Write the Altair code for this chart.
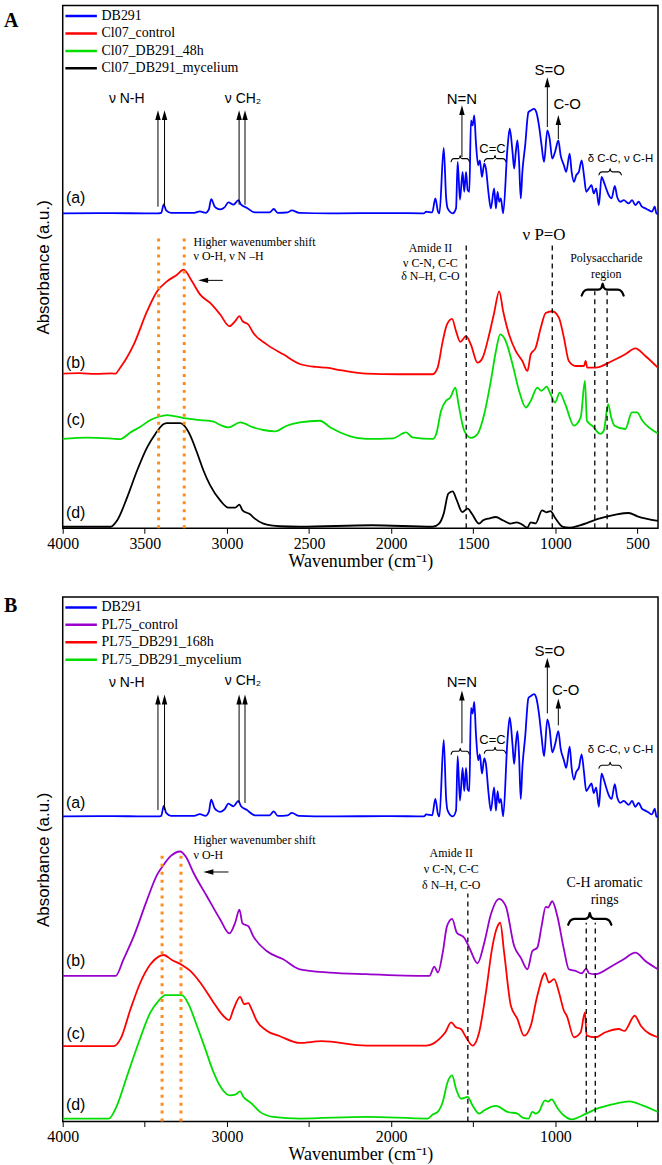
import altair as alt
import pandas as pd

SANS = "Liberation Sans"
SERIF = "Liberation Serif"

# wavenumber range shared by both panels (cm-1)
WN_MIN, WN_MAX = 375, 4000
PLOT_W = 598

# ---------------------------------------------------------------- spectra
# DB291 dye: height above its own baseline (a.u.)
DB291 = [
    (4000, 0), (3700, 0.3), (3500, 0), (3420, 0), (3400, 0.5), (3385, 9), (3370, 3),
    (3340, 0.5), (3200, 0.5), (3165, 2), (3130, 0.5), (3110, 4), (3096, 14.4), (3075, 7),
    (3061, 5), (3040, 4), (3015, 6), (2991, 11), (2960, 8.7), (2930, 13.4), (2915, 9),
    (2880, 5.7), (2830, 1), (2740, 1), (2715, 4.4), (2690, 0.5), (2630, 1), (2605, 3),
    (2560, 0.5), (2370, 0), (2000, 0.3), (1800, 0), (1787, 1.7), (1750, 1), (1731, 15),
    (1715, 2), (1706, 0), (1680, 65.7), (1665, 15), (1656, 5), (1625, 0), (1605, 5),
    (1595, 51.7), (1581, 13.7), (1565, 41.7), (1555, 21.7), (1544, 41.7), (1534, 23.3),
    (1524, 21.7), (1514, 93.3), (1504, 88.3), (1494, 98.3), (1484, 71.7), (1470, 48.3),
    (1460, 53.3), (1447, 36.7), (1433, 50), (1423, 45), (1407, 20), (1393, 5), (1373, 25),
    (1362, 5), (1352, 21.7), (1342, 11.7), (1332, 15), (1318, 0), (1292, 65), (1278, 85),
    (1261, 61.7), (1251, 45), (1241, 61.7), (1231, 73.3), (1221, 51.7), (1211, 15),
    (1201, 41.7), (1184, 68.3), (1164, 101.7), (1150, 103.3), (1130, 105), (1116, 101.7),
    (1100, 88.3), (1084, 68.3), (1069, 51.7), (1049, 83.3), (1035, 75), (1019, 55),
    (1002, 61.7), (982, 73.3), (968, 58.3), (948, 48.3), (934, 41.7), (913, 60),
    (901, 41.7), (887, 31.7), (873, 38.3), (857, 41.7), (840, 53.3), (826, 38.3),
    (812, 21.7), (796, 25), (780, 28.3), (766, 20), (752, 25), (735, 8.3), (719, 36.7),
    (705, 31.7), (691, 25), (675, 18.3), (658, 15), (638, 27.7), (624, 16.7), (604, 11.7),
    (584, 13.3), (553, 10), (533, 13.3), (513, 8.3), (493, 11.7), (473, 6.7), (452, 5),
    (432, 3.3), (412, 1.7), (395, 6.7), (385, 0), (375, -0.5),
]
DB291_OFFSET = {"A": 316.3, "B": 306.5}
DB291_GAIN = {"A": 1.0, "B": 1.17}

CL07_CONTROL = [
    (4000, 155.3), (3900, 155.8), (3800, 155.0), (3700, 155.5), (3680, 155.3), (3650, 161.3),
    (3567, 184.7), (3486, 218), (3425, 238), (3365, 248), (3304, 254.7), (3264, 259.7),
    (3213, 248), (3163, 234.7), (3102, 226.3), (3041, 214.7), (2985, 203), (2950, 208),
    (2924, 213), (2905, 208), (2870, 204.7), (2840, 196.3), (2758, 184.7), (2657, 174.7),
    (2556, 165), (2455, 162), (2394, 161.3), (2300, 158.5), (2151, 155.3), (1949, 154.7),
    (1747, 154.7), (1717, 161.3), (1686, 188), (1660, 204.7), (1629, 210.3), (1605, 198),
    (1579, 187.3), (1544, 193), (1515, 184.7), (1474, 166.3), (1443, 171.3), (1403, 194.7),
    (1373, 216.3), (1342, 238), (1318, 218), (1282, 194.7), (1241, 178), (1201, 168),
    (1170, 158), (1150, 174.7), (1120, 181.3), (1089, 201.3), (1059, 216.3), (1019, 218),
    (978, 211.3), (948, 191.3), (918, 168), (877, 163), (826, 163), (816, 168), (806, 161.3),
    (756, 161.3), (655, 168), (574, 174.7), (513, 180.7), (452, 173), (376, 161.3),
]
CL07_DB291_48H = [
    (4000, 89.7), (3850, 91), (3700, 90), (3650, 89.5), (3587, 96.3), (3527, 102),
    (3466, 108.7), (3416, 112), (3365, 113.7), (3264, 110.7), (3163, 108.7), (3082, 107),
    (3040, 103.7), (2991, 101.3), (2920, 106.3), (2839, 101.3), (2778, 98.7), (2707, 97.3),
    (2636, 103), (2556, 106.3), (2434, 108), (2370, 101.3), (2151, 89.7), (1990, 90.3),
    (1909, 96.3), (1870, 91.3), (1747, 89.7), (1725, 95), (1696, 118), (1666, 128),
    (1640, 131.3), (1609, 141.3), (1590, 124.7), (1555, 98), (1514, 90.7), (1474, 94.7),
    (1433, 114.7), (1393, 148), (1362, 178), (1336, 194.7), (1302, 188), (1261, 164.7),
    (1221, 138), (1180, 121.3), (1150, 128), (1110, 141.3), (1085, 138), (1053, 142.3),
    (1030, 134.7), (1002, 126.3), (974, 136.3), (940, 124.7), (887, 103), (846, 111.3),
    (820, 148), (808, 108), (776, 103), (725, 94.7), (705, 98), (679, 124.7), (660, 111.3),
    (640, 103), (574, 99.7), (534, 116.3), (503, 116.3), (470, 108), (376, 95.3),
]
CL07_DB291_MYCELIUM = [
    (4000, 1.5), (3709, 1.5), (3668, 8), (3607, 31.3), (3547, 58), (3486, 81.3),
    (3436, 94.7), (3385, 104.7), (3365, 105.7), (3284, 105.7), (3260, 103), (3223, 93),
    (3183, 76.3), (3143, 58), (3102, 43), (3041, 28), (2991, 20.7), (2950, 20.7),
    (2924, 23.7), (2905, 18), (2859, 14), (2830, 9.7), (2778, 4.7), (2677, 2), (2556, 1.5),
    (2119, 3), (1747, 1.5), (1708, 4.7), (1680, 14.7), (1652, 34.7), (1626, 37), (1600, 28),
    (1567, 16.3), (1534, 19.7), (1510, 15), (1465, 4.7), (1440, 8), (1400, 10),
    (1362, 11.3), (1320, 8), (1273, 4.7), (1234, 6), (1200, 3.5), (1171, 0.5), (1150, 6),
    (1120, 5), (1081, 18), (1055, 16), (1030, 17.3), (1000, 10), (953, 1.3), (915, 0.5),
    (850, 3), (735, 9.7), (633, 13.7), (553, 15.3), (500, 12), (375, 7.3),
]
PL75_CONTROL = [
    (4000, 146.3), (3678, 146.3), (3630, 163), (3567, 186.3), (3486, 223), (3425, 248),
    (3385, 258), (3345, 266.3), (3284, 271.3), (3250, 266), (3203, 249.7), (3122, 226.3),
    (3041, 203), (2985, 189), (2950, 199.7), (2924, 213), (2905, 199), (2870, 196.3),
    (2840, 186.3), (2758, 171.3), (2657, 163), (2556, 153), (2374, 149.7), (2151, 148),
    (1767, 146.3), (1737, 155.7), (1715, 149.7), (1686, 169.7), (1660, 196.3),
    (1629, 203.7), (1600, 189.7), (1555, 184.7), (1524, 174.7), (1474, 159), (1433, 179.7),
    (1393, 208), (1342, 223.7), (1302, 216.3), (1251, 176.3), (1211, 164.7), (1170, 153),
    (1140, 171.3), (1110, 174.7), (1084, 196.3), (1059, 215.7), (1045, 215), (1019, 221.3),
    (988, 206.3), (948, 173), (918, 153), (877, 151.3), (840, 149), (812, 153.7), (796, 149),
    (756, 148), (655, 156.3), (584, 163), (513, 169.7), (452, 161.3), (376, 153),
]
PL75_DB291_168H = [
    (4000, 75.7), (3689, 75.7), (3648, 83), (3587, 113), (3527, 139.7), (3466, 158),
    (3416, 165.7), (3385, 167.3), (3335, 162.3), (3274, 157.3), (3223, 151.3),
    (3163, 139.7), (3082, 119.7), (3040, 109.7), (2987, 102), (2960, 113), (2920, 125.3),
    (2895, 118), (2870, 119), (2850, 113), (2819, 101.3), (2758, 91.3), (2677, 85.7),
    (2556, 79), (2424, 80.7), (2151, 76.3), (1787, 76.3), (1747, 78), (1706, 83),
    (1670, 89.7), (1635, 99.7), (1605, 94.7), (1575, 93), (1544, 84.7), (1504, 76.3),
    (1464, 89.7), (1423, 129.7), (1383, 176.3), (1352, 196.3), (1336, 199.7), (1312, 169.7),
    (1271, 116.3), (1231, 103), (1191, 86.3), (1150, 96.3), (1110, 126.3), (1063, 149),
    (1040, 139.7), (1008, 143), (978, 129.7), (948, 111.3), (930, 106), (887, 84.7),
    (846, 89.7), (820, 109.7), (810, 86.3), (756, 84.7), (695, 89.7), (614, 93), (580, 91),
    (517, 106.3), (480, 96.3), (376, 84.7),
]
PL75_DB291_MYCELIUM = [
    (4000, 3), (3719, 3), (3678, 13), (3607, 46.3), (3537, 79.7), (3466, 109.7),
    (3416, 121.3), (3375, 127), (3274, 127), (3234, 118), (3183, 96.3), (3132, 73),
    (3082, 49.7), (3031, 33), (2981, 26.3), (2950, 27), (2920, 30.3), (2900, 25), (2849, 18),
    (2799, 9.7), (2718, 4.7), (2556, 3), (2151, 4.7), (1777, 3), (1747, 7), (1717, 9.7),
    (1686, 19.7), (1656, 39.7), (1629, 46.3), (1605, 33), (1575, 23), (1534, 24.7),
    (1505, 16.3), (1464, 8), (1433, 11.3), (1362, 15.7), (1292, 9.7), (1231, 8), (1200, 4),
    (1164, 3), (1140, 9.7), (1120, 8), (1100, 10), (1063, 21.3), (1045, 20), (1023, 22.3),
    (988, 13.7), (950, 6.3), (901, 2.3), (812, 8), (735, 13.7), (634, 18), (549, 20.3),
    (470, 16.3), (376, 9.7),
]

# ---------------------------------------------------------------- annotations
# vertical arrows: (wavenumber, from a.u., tip a.u.)
ARROWS_A = [(3420, 323, 420), (3380, 323, 420), (2926, 325, 420), (2890, 325, 420),
            (1569, 373, 425), (1049, 403, 453), (982, 391, 415)]
ARROWS_B = [(3420, 313, 429), (3380, 313, 429), (2926, 320, 429), (2890, 320, 429),
            (1569, 380, 433), (1049, 410, 466), (982, 398, 425)]
# horizontal "shift" arrows: (tail wavenumber, tip wavenumber, a.u.)
SHIFT_A = (3025, 3175, 249)
SHIFT_B = (2991, 3143, 250.7)

# sans-serif labels: (text, wavenumber, a.u., font size)
SANS_A = [("ν N-H", 3610, 431, 14), ("ν CH₂", 2902, 431, 14), ("N=N", 1569, 431.3, 15),
          ("C=C", 1383, 380.7, 13), ("S=O", 1035, 460.7, 15), ("C-O", 928, 426.3, 15),
          ("δ C-C, ν C-H", 604, 371.3, 11.5), ("(a)", 3921, 331.3, 16),
          ("(b)", 3921, 166.3, 16), ("(c)", 3921, 108.7, 16), ("(d)", 3921, 15.3, 16)]
SANS_B = [("ν N-H", 3610, 441, 14), ("ν CH₂", 2902, 443, 14), ("N=N", 1569, 441.3, 15),
          ("C=C", 1383, 383, 13), ("S=O", 1035, 473, 15), ("C-O", 938, 433.7, 15),
          ("δ C-C, ν C-H", 604, 373.7, 11.5), ("(a)", 3921, 319.7, 16),
          ("(b)", 3921, 161.3, 16), ("(c)", 3921, 88, 16), ("(d)", 3921, 16.3, 16)]

# serif labels, centred
SERIF_A = [("Amide II", 1761, 282, 12), ("ν C-N, C-C", 1761, 266.3, 12),
           ("δ N–H, C-O", 1761, 253, 12), ("ν P=O", 1069, 294.7, 17),
           ("Polysaccharide", 690, 271.3, 12), ("region", 690, 255.7, 12)]
SERIF_B = [("Amide II", 1634, 269.7, 12), ("ν C-N, C-C", 1634, 253.7, 12),
           ("δ N–H, C-O", 1634, 238, 12), ("C-H aromatic", 700, 239.7, 14),
           ("rings", 700, 222.3, 14)]
# serif labels, left aligned
NOTE_A = [("Higher wavenumber shift", 3203, 288, 12), ("ν O-H, ν N –H", 3203, 273, 12)]
NOTE_B = [("Higher wavenumber shift", 3203, 283, 12), ("ν O-H", 3203, 268, 12)]

# braces: (left wn, right wn, a.u., depth, stroke width)
BRACES_A = [(1635, 1524, 371.3, 3, 1.1), (1433, 1302, 371.3, 3, 1.1),
            (735, 598, 358, 3, 1.1), (840, 584, 239.7, 6, 2.2)]
BRACES_B = [(1635, 1524, 372, 3, 1.1), (1433, 1302, 373, 3, 1.1),
            (735, 598, 358, 3, 1.1), (922, 659, 203.7, 6, 2.2)]
BRACE_SHAPE = [(0, -1), (0.05, -0.3), (0.14, 0), (0.40, 0), (0.47, 0.3), (0.5, 1),
               (0.53, 0.3), (0.60, 0), (0.86, 0), (0.95, -0.3), (1, -1)]

# dashed black guides: (wn, top a.u.); orange dotted guides likewise
DASHED_A = [(1543, 288), (1019, 288), (760, 238), (685, 238)]
DASHED_B = [(1533, 229), (812, 199.7), (757, 199.7)]
DOTTED_A = [(3416, 293), (3260, 293)]
DOTTED_B = [(3395, 271.3), (3280, 271.3)]

PANELS = [
    dict(key="A", height=525, letter_y=15,
         names=["DB291", "Cl07_control", "Cl07_DB291_48h", "Cl07_DB291_mycelium"],
         colors=["#0000FF", "#FF0000", "#00DD00", "#000000"],
         curves=[CL07_CONTROL, CL07_DB291_48H, CL07_DB291_MYCELIUM],
         ticks=[4000, 3500, 3000, 2500, 2000, 1500, 1000, 500], label_every=500,
         arrows=ARROWS_A, shift=SHIFT_A, sans=SANS_A, serif=SERIF_A, note=NOTE_A,
         braces=BRACES_A, dashed=DASHED_A, dotted=DOTTED_A),
    dict(key="B", height=527, letter_y=9.5,
         names=["DB291", "PL75_control", "PL75_DB291_168h", "PL75_DB291_mycelium"],
         colors=["#0000FF", "#9900CC", "#FF0000", "#00DD00"],
         curves=[PL75_CONTROL, PL75_DB291_168H, PL75_DB291_MYCELIUM],
         ticks=[4000, 3500, 3000, 2500, 2000, 1500, 1000, 500], label_every=1000,
         arrows=ARROWS_B, shift=SHIFT_B, sans=SANS_B, serif=SERIF_B, note=NOTE_B,
         braces=BRACES_B, dashed=DASHED_B, dotted=DOTTED_B),
]

UP_HEAD = "M0,-1L-0.55,1L0.55,1Z"
LEFT_HEAD = "M-1,0L1,-0.55L1,0.55Z"


def text_frame(items):
    return pd.DataFrame(items, columns=["t", "wn", "au", "size"])


def panel(p):
    H = p["height"]
    xs = alt.Scale(domain=[WN_MIN, WN_MAX], reverse=True, nice=False, zero=False)
    ys = alt.Scale(domain=[0, H], nice=False, zero=False)
    label_expr = f"datum.value % {p['label_every']} == 0 ? datum.label : ''"
    x_axis = alt.Axis(
        values=p["ticks"], format="d", labelExpr=label_expr, labelFlush=False,
        labelOverlap=False, labelFont=SERIF, labelFontSize=16, labelColor="black",
        labelPadding=2, tickSize=5, tickColor="black", tickWidth=1, domain=False,
        grid=False, title="Wavenumber (cm⁻¹)", titleFont=SERIF, titleFontSize=18,
        titleFontWeight="normal", titleColor="black", titlePadding=1)
    y_axis = alt.Axis(
        labels=False, ticks=False, domain=False, grid=False,
        title="Absorbance (a.u.)", titleFont=SANS, titleFontSize=17,
        titleFontWeight="normal", titleColor="black", titlePadding=10)

    # every layer carries the same axis definition so the merged axis survives
    def X(f="wn"):
        return alt.X(f"{f}:Q", scale=xs, axis=x_axis)

    def Y(f="au"):
        return alt.Y(f"{f}:Q", scale=ys, axis=y_axis)

    # stacked spectra
    rows = []
    k = p["key"]
    for i, (wn, rel) in enumerate(DB291):
        rows.append(dict(series=p["names"][0], wn=wn,
                         au=DB291_OFFSET[k] + DB291_GAIN[k] * rel, idx=i))
    for name, pts in zip(p["names"][1:], p["curves"]):
        for i, (wn, au) in enumerate(pts):
            rows.append(dict(series=name, wn=wn, au=au, idx=i))
    spectra = pd.DataFrame(rows)

    lines = alt.Chart(spectra).mark_line(strokeWidth=1.8, strokeJoin="round",
                                         interpolate="monotone").encode(
        x=X(), y=Y(),
        color=alt.Color("series:N", scale=alt.Scale(domain=p["names"], range=p["colors"]),
                        legend=alt.Legend(
                            title=None, orient="none", legendX=1, legendY=3.5,
                            symbolType="stroke", symbolSize=1000, symbolStrokeWidth=2.5,
                            clipHeight=14, rowPadding=3.5, padding=0, labelOffset=3,
                            labelFont=SERIF, labelFontSize=14, labelColor="black",
                            labelLimit=400)),
        order="idx:Q",
    )

    dotted = alt.Chart(pd.DataFrame(p["dotted"], columns=["wn", "top"]).assign(bottom=0)) \
        .mark_rule(color="#FF8C1A", strokeWidth=3, strokeDash=[3, 5]) \
        .encode(x=X(), y=Y("bottom"), y2="top:Q")
    dashed = alt.Chart(pd.DataFrame(p["dashed"], columns=["wn", "top"]).assign(bottom=0)) \
        .mark_rule(color="black", strokeWidth=1.3, strokeDash=[5, 4]) \
        .encode(x=X(), y=Y("bottom"), y2="top:Q")

    arrows = pd.DataFrame(p["arrows"], columns=["wn", "base", "tip"])
    arrows["shaft_end"] = arrows["tip"] - 6
    arrows["head"] = arrows["tip"] - 5
    shafts = alt.Chart(arrows).mark_rule(color="black", strokeWidth=1) \
        .encode(x=X(), y=Y("base"), y2="shaft_end:Q")
    heads = alt.Chart(arrows).mark_point(shape=UP_HEAD, filled=True, size=100,
                                         color="black", opacity=1, strokeWidth=0) \
        .encode(x=X(), y=Y("head"))

    tail, tip, lvl = p["shift"]
    shift = pd.DataFrame([dict(tail=tail, tip=tip, au=lvl, head=tip - 30, shaft=tip - 20)])
    shift_shaft = alt.Chart(shift).mark_rule(color="black", strokeWidth=1) \
        .encode(x=X("tail"), x2="shaft:Q", y=Y())
    shift_head = alt.Chart(shift).mark_point(shape=LEFT_HEAD, filled=True, size=100,
                                             color="black", opacity=1, strokeWidth=0) \
        .encode(x=X("head"), y=Y())

    brace_rows = []
    for b, (lo, hi, lvl, depth, sw) in enumerate(p["braces"]):
        for f, dy in BRACE_SHAPE:
            brace_rows.append(dict(b=b, f=f, wn=lo + (hi - lo) * f, au=lvl + dy * depth, sw=sw))
    braces = alt.Chart(pd.DataFrame(brace_rows)).mark_line(
        color="black", interpolate="monotone", strokeCap="round").encode(
        x=X(), y=Y(), detail="b:N", order="f:Q",
        strokeWidth=alt.StrokeWidth("sw:Q", scale=None))

    def texts(items, font, align):
        return alt.Chart(text_frame(items)).mark_text(
            font=font, align=align, baseline="middle", color="black").encode(
            x=X(), y=Y(), text="t:N", size=alt.Size("size:Q", scale=None))

    letter = alt.Chart(pd.DataFrame({"t": [p["key"]]})).mark_text(
        font=SERIF, fontSize=20, fontWeight="bold", align="left", baseline="middle",
        color="black").encode(x=alt.value(-59), y=alt.value(p["letter_y"]), text="t:N")

    return alt.layer(
        lines, dotted, dashed, braces, shafts, heads, shift_shaft, shift_head,
        texts(p["sans"], SANS, "center"), texts(p["serif"], SERIF, "center"),
        texts(p["note"], SERIF, "left"), letter,
    ).properties(width=PLOT_W, height=H)


chart = alt.vconcat(*[panel(p) for p in PANELS], spacing=24).resolve_scale(
    color="independent", x="independent", y="independent"
).properties(
    padding={"left": 3, "top": 2, "right": 2, "bottom": 0}, background="white"
).configure_view(
    stroke="black", strokeWidth=1.5
).configure_axisX(
    labelFont=SERIF, titleFont=SERIF, titleFontWeight="normal"
).configure_axisY(
    titleFont=SANS, titleFontWeight="normal"
)

chart.save("out.html", embed_options={"renderer": "svg", "actions": False})
